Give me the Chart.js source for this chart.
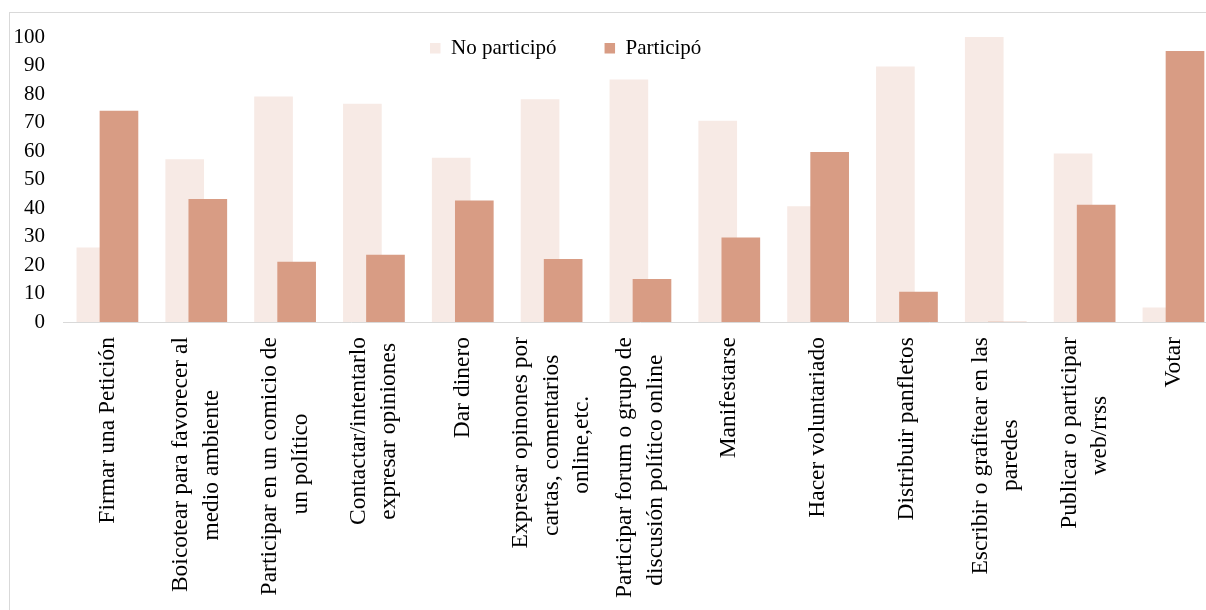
<!DOCTYPE html>
<html>
<head>
<meta charset="utf-8">
<script src="https://cdn.jsdelivr.net/npm/chart.js@4.4.1/dist/chart.umd.min.js"></script>
<style>
  html, body { margin: 0; padding: 0; background: #ffffff; overflow: hidden; width: 1206px; height: 610px; }
  #frame { position: absolute; left: 9px; top: 12px; width: 1400px; height: 800px;
           border-left: 1px solid #D9D9D9; border-top: 1px solid #D9D9D9; }
  #chart { position: absolute; left: 0; top: 0; }
</style>
</head>
<body>
<div id="frame"><canvas id="chart" width="1209" height="597"></canvas></div>
<script>
// ---- data ----
const categories = [
  ["Firmar una Petición"],
  ["Boicotear para favorecer al", "medio ambiente"],
  ["Participar en un comicio de", "un político"],
  ["Contactar/intentarlo", "expresar opiniones"],
  ["Dar dinero"],
  ["Expresar opinones por", "cartas, comentarios", "online,etc."],
  ["Participar forum o grupo de", "discusión político online"],
  ["Manifestarse"],
  ["Hacer voluntariado"],
  ["Distribuir panfletos"],
  ["Escribir o grafitear en las", "paredes"],
  ["Publicar o participar", "web/rrss"],
  ["Votar"]
];
const noParticipo = [26, 57, 79, 76.5, 57.5, 78, 85, 70.5, 40.5, 89.5, 100, 59, 5];
const participo   = [74, 43, 21, 23.5, 42.5, 22, 15, 29.5, 59.5, 10.5, 0, 41, 95];
const seriesNames = ["No participó", "Participó"];
const yTickValues = [0, 10, 20, 30, 40, 50, 60, 70, 80, 90, 100];

// ---- styling constants ----
const FONT = "'Liberation Serif', 'Times New Roman', serif";
const COLOR_NO = "#F7EAE5";
const COLOR_SI = "#D89C84";
const CAT_PX = 88.9;          // approx. pixel width of one category slot
const BAR_SHIFT = 0.13;       // bar centre offset from category centre (fraction of slot)
const X_FONT_SIZE = 23.5;
const X_LINE_H = 1.3;

// centre the lines of a multi-line rotated label (Chart.js right-aligns them)
const measureCtx = document.createElement('canvas').getContext('2d');
measureCtx.font = X_FONT_SIZE + "px " + FONT;
const NBSP = "\u00A0";
const spaceW = measureCtx.measureText(NBSP).width || (X_FONT_SIZE * 0.25);
function centredLines(lines) {
  if (lines.length === 1) return lines[0];
  const widths = lines.map(l => measureCtx.measureText(l).width);
  const maxW = Math.max(...widths);
  return lines.map((l, k) => l + NBSP.repeat(Math.round((maxW - widths[k]) / 2 / spaceW)));
}

const chart = new Chart(document.getElementById('chart'), {
  type: 'bar',
  data: {
    datasets: [
      {
        label: seriesNames[0],
        data: noParticipo.map((v, i) => ({ x: i - BAR_SHIFT, y: v })),
        backgroundColor: COLOR_NO,
        borderWidth: 0,
        grouped: false,
        barThickness: 38,
        order: 1
      },
      {
        label: seriesNames[1],
        data: participo.map((v, i) => ({ x: i + BAR_SHIFT, y: v })),
        backgroundColor: COLOR_SI,
        borderWidth: 0,
        grouped: false,
        barThickness: 38,
        order: 0
      }
    ]
  },
  options: {
    responsive: false,
    animation: false,
    devicePixelRatio: 1,
    layout: { padding: { top: 23, left: 0, right: 0, bottom: 0 } },
    plugins: {
      tooltip: { enabled: false },
      legend: {
        display: true,
        position: 'top',
        align: 'start',
        maxHeight: 1,
        labels: {
          boxWidth: 10.5,
          boxHeight: 10.5,
          padding: 48,
          color: '#000000',
          font: { family: FONT, size: 21 },
          sort: (a, b) => a.datasetIndex - b.datasetIndex
        }
      }
    },
    scales: {
      x: {
        type: 'linear',
        min: -0.5,
        max: categories.length - 0.5,
        offset: false,
        grid: { display: false, drawTicks: false, offset: false },
        border: { display: true, color: '#D9D9D9', width: 1, z: 1 },
        afterBuildTicks: (scale) => {
          scale.ticks = categories.map((lines, i) => ({
            value: i - (lines.length - 1) * (X_FONT_SIZE * X_LINE_H) / 2 / CAT_PX
          }));
        },
        afterFit: (scale) => { scale.height = 288; },
        ticks: {
          autoSkip: false,
          minRotation: 90,
          maxRotation: 90,
          padding: 15,
          color: '#000000',
          font: { family: FONT, size: X_FONT_SIZE, lineHeight: X_LINE_H },
          callback: (value, index) => centredLines(categories[index])
        }
      },
      y: {
        min: 0,
        max: 100,
        grid: { display: false, drawTicks: false },
        border: { display: false },
        afterBuildTicks: (scale) => { scale.ticks = yTickValues.map(v => ({ value: v })); },
        afterFit: (scale) => { scale.width = 53; scale.paddingTop = 0; scale.paddingBottom = 0; },
        ticks: {
          autoSkip: false,
          padding: 18,
          color: '#000000',
          font: { family: FONT, size: 21 }
        }
      }
    }
  },
  plugins: [{
    id: 'legendPlace',
    afterLayout(c) {
      const lg = c.legend;
      if (!lg) return;
      const pad = lg.options.labels.padding;
      lg.left = 420 - pad; lg.width = 600; lg.right = lg.left + lg.width;
      lg.top = 24.75 - pad; lg.height = 140; lg.bottom = lg.top + lg.height;
    }
  }]
});
</script>
</body>
</html>
